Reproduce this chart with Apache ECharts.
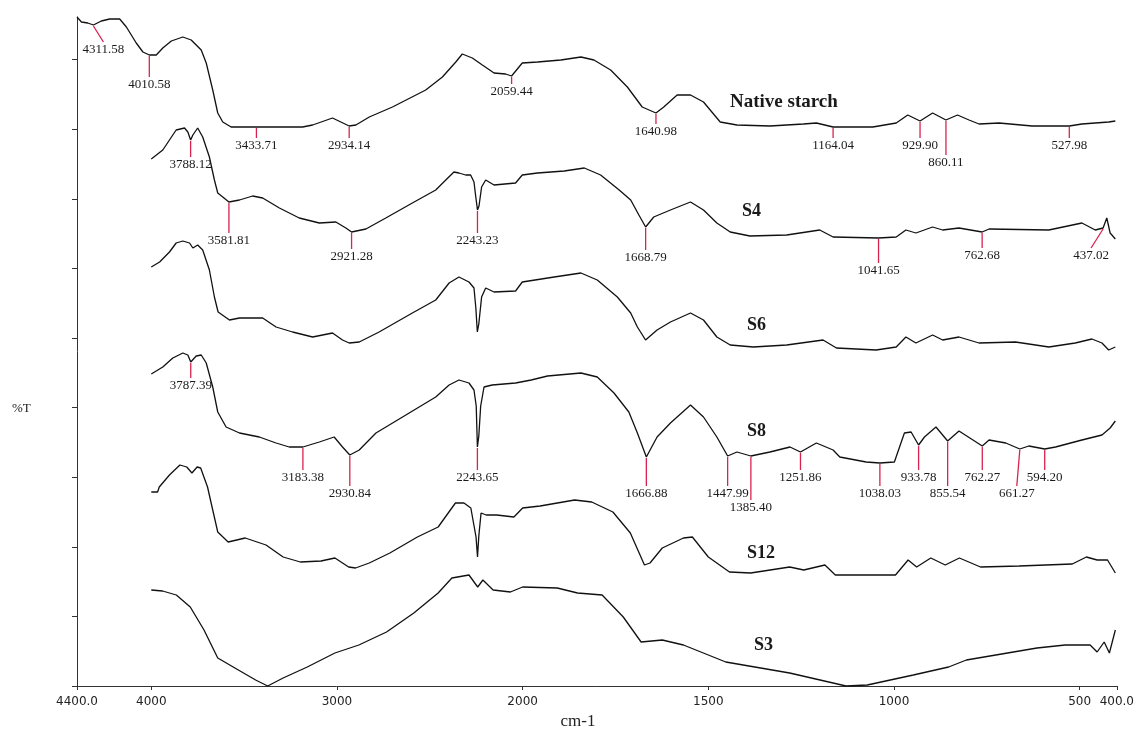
<!DOCTYPE html>
<html>
<head>
<meta charset="utf-8">
<script src="https://cdn.jsdelivr.net/npm/echarts@6/dist/echarts.min.js"></script>
<style>
html,body{margin:0;padding:0;background:#fff;}
#chart{width:1137px;height:743px;}
</style>
</head>
<body>
<div id="chart"></div>
<script>
// ---------------- DATA (wavenumber cm-1, transmittance in arbitrary offset units) ----------------
const xTickWn = [4400, 4000, 3000, 2000, 1500, 1000, 500, 400];
const xTickLabels = ['4400.0', '4000', '3000', '2000', '1500', '1000', '500', '400.0'];
const seriesNames = ['Native starch', 'S4', 'S6', 'S8', 'S12', 'S3'];

const nativeStarch = [
[4400,669],[4376,664],[4342,663],[4311.58,661],[4269,665],[4224,667],[4170,667],[4134,659],[4081,643],[4045,634],
[4010.58,631],[3973,631],[3938,638],[3892,645],[3830,649],[3785,646],[3731,636],[3704,623],[3669,596],[3642,573],
[3615,564],[3570,559],[3433.71,559],[3185,559],[3131,561],[3024,568],[2979,564],[2934.14,560],[2898,561],[2826,569],
[2701,579],[2522,596],[2432,609],[2360,624],[2325,632],[2271,628],[2217,621],[2154,613],[2092,612],[2059.44,610],
[2002,623],[1960,624],[1897,626],[1843,629],[1808,626],[1763,616],[1718,599],[1678,579],[1640.98,573],[1620,579],
[1584,591],[1548,591],[1513,584],[1468,564],[1423,561],[1334,560],[1244,562],[1209,563],[1164.04,559],[1057,559],
[994,563],[963,571],[929.90,565],[896,573],[860.11,566],[829,571],[798,566],[771,562],[717,563],[628,560],
[527.98,560],[494,562],[422,564],[404,565]
];
const s4 = [
[4000,527],[3938,536],[3902,546],[3866,556],[3821,558],[3803,554],[3788.12,546],[3776,551],[3750,558],[3723,549],
[3687,529],[3660,506],[3642,493],[3615,489],[3581.81,484],[3525,486],[3454,490],[3400,488],[3310,478],[3203,468],
[3095,463],[3006,464],[2952,458],[2921.28,454],[2844,457],[2737,468],[2594,483],[2468,496],[2414,506],[2370,514],
[2343,513],[2307,511],[2280,511],[2262,504],[2253,490],[2243.23,476],[2235,480],[2221,499],[2199,506],[2154,501],
[2038,503],[2002,511],[1960,513],[1888,515],[1834,518],[1790,511],[1740,496],[1709,486],[1687,471],[1668.79,459],
[1647,469],[1602,476],[1548,484],[1513,476],[1477,463],[1441,454],[1388,450],[1289,451],[1200,456],[1164,449],
[1041.65,448],[994,449],[968,456],[941,453],[896,459],[869,456],[825,458],[762.68,454],[744,457],[583,456],
[494,463],[458,456],[437.02,458],[427,468],[418,453],[404,447]
];
const s6 = [
[4000,419],[3955,424],[3902,434],[3866,443],[3830,445],[3794,443],[3776,438],[3750,441],[3723,436],[3687,416],
[3660,389],[3640,374],[3579,366],[3525,368],[3400,368],[3328,359],[3239,354],[3131,349],[3024,353],[2970,346],
[2934,343],[2880,344],[2773,354],[2594,373],[2468,386],[2396,403],[2343,409],[2289,404],[2262,398],[2252,378],
[2244,354],[2236,362],[2221,389],[2199,398],[2154,394],[2038,395],[2002,404],[1915,409],[1843,413],[1799,406],
[1745,389],[1709,373],[1691,359],[1669,346],[1638,356],[1602,364],[1548,373],[1513,366],[1477,349],[1441,341],
[1379,339],[1289,341],[1191,346],[1155,338],[1048,336],[994,339],[968,349],[941,343],[896,351],[869,346],
[825,349],[771,343],[673,344],[583,339],[512,343],[467,347],[440,343],[422,336],[404,339]
];
const s8 = [
[4000,312],[3938,319],[3884,328],[3830,333],[3803,331],[3787.39,324],[3758,330],[3731,331],[3704,323],[3669,299],
[3642,274],[3597,259],[3525,253],[3418,249],[3328,243],[3257,239],[3183.38,239],[3095,244],[3015,249],[2970,239],
[2930.84,231],[2880,236],[2790,253],[2611,273],[2468,289],[2396,301],[2343,306],[2289,303],[2262,296],[2250,280],
[2243.65,239],[2236,250],[2226,280],[2208,299],[2164,301],[2038,303],[1977,306],[1933,310],[1843,313],[1799,309],
[1754,293],[1714,274],[1691,253],[1666.88,229],[1638,249],[1602,263],[1548,281],[1513,269],[1477,249],[1447.99,230],
[1423,234],[1385.40,230],[1334,234],[1280,239],[1251.86,234],[1209,243],[1164,236],[1146,229],[1075,224],[1038.03,223],
[999,224],[972,253],[954,254],[933.78,241],[918,249],[887,259],[855.54,245],[825,255],[762.27,240],[744,246],
[699,243],[661.27,237],[637,240],[594.20,237],[565,239],[494,246],[440,251],[418,258],[404,265]
];
const s12 = [
[4000,194],[3966,194],[3957,199],[3902,211],[3846,221],[3809,219],[3781,213],[3753,219],[3734,218],[3697,199],
[3669,176],[3642,154],[3586,144],[3494,148],[3382,141],[3290,129],[3197,124],[3086,125],[3011,128],[2937,119],
[2900,118],[2826,123],[2715,133],[2567,149],[2455,159],[2362,183],[2316,183],[2279,178],[2251,149],[2243,129],
[2236,150],[2224,173],[2196,171],[2140,171],[2047,169],[2000,178],[1953,180],[1860,186],[1814,184],[1757,174],
[1710,153],[1672,121],[1657,123],[1624,138],[1567,148],[1543,149],[1500,129],[1443,114],[1386,113],[1281,119],
[1243,116],[1186,121],[1158,111],[996,111],[962,126],[939,119],[901,128],[862,121],[824,128],[767,119],
[663,120],[520,122],[482,129],[453,126],[425,126],[404,113]
];
const s3 = [
[4000,96],[3939,95],[3865,91],[3790,79],[3716,56],[3642,28],[3531,16],[3438,6],[3373,0],[3290,8],
[3160,19],[3011,33],[2882,41],[2733,54],[2586,73],[2455,93],[2381,108],[2289,111],[2242,99],[2214,106],
[2159,96],[2066,94],[2000,99],[1907,98],[1852,93],[1786,91],[1729,69],[1681,44],[1624,46],[1567,41],
[1453,24],[1281,13],[1129,0],[1072,1],[948,11],[853,19],[805,26],[615,38],[539,41],[472,41],
[453,34],[434,44],[420,33],[404,56]
];

// peak annotations (wavenumbers)
const nativePeaks = [4311.58, 4010.58, 3433.71, 2934.14, 2059.44, 1640.98, 1164.04, 929.90, 860.11, 527.98];
const s4Peaks = [3788.12, 3581.81, 2921.28, 2243.23, 1668.79, 1041.65, 762.68, 437.02];
const s8Peaks = [3787.39, 3183.38, 2930.84, 2243.65, 1666.88, 1447.99, 1385.40, 1251.86, 1038.03, 933.78, 855.54, 762.27, 661.27, 594.20];

// ---------------- LAYOUT (annotation leader lengths in px, slant offsets) ----------------
const markerLayout = {
  '4311.58': {drop: 17, dx: 10}, '4010.58': {drop: 22}, '3433.71': {drop: 11}, '2934.14': {drop: 12},
  '2059.44': {drop: 8}, '1640.98': {drop: 11}, '1164.04': {drop: 11}, '929.90': {drop: 17},
  '860.11': {drop: 35}, '527.98': {drop: 12},
  '3788.12': {drop: 17}, '3581.81': {drop: 31}, '2921.28': {drop: 17}, '2243.23': {drop: 23},
  '1668.79': {drop: 23}, '1041.65': {drop: 25}, '762.68': {drop: 16}, '437.02': {drop: 20, dx: -12},
  '3787.39': {drop: 16}, '3183.38': {drop: 23}, '2930.84': {drop: 31}, '2243.65': {drop: 23},
  '1666.88': {drop: 29}, '1447.99': {drop: 30}, '1385.40': {drop: 44}, '1251.86': {drop: 18},
  '1038.03': {drop: 23}, '933.78': {drop: 25}, '855.54': {drop: 45}, '762.27': {drop: 24},
  '661.27': {drop: 37, dx: -3}, '594.20': {drop: 21}
};
const nameLayout = [
  {x: 730, y: 102, size: 19}, {x: 742, y: 211, size: 18}, {x: 747, y: 325, size: 18},
  {x: 747, y: 431, size: 18}, {x: 747, y: 553, size: 18}, {x: 754, y: 645, size: 18}
];

// ---------------- AXIS TRANSFORM (scale doubles below 2000 cm-1, as in the instrument plot) ----------------
function toAxis(w) { return w >= 2000 ? 4400 - w : 2400 + 2 * (2000 - w); }
function interp(arr, w) {
  for (let i = 0; i < arr.length - 1; i++) {
    const a = arr[i], b = arr[i + 1];
    if ((w <= a[0] && w >= b[0])) {
      if (a[0] === b[0]) return a[1];
      return a[1] + (b[1] - a[1]) * (a[0] - w) / (a[0] - b[0]);
    }
  }
  return arr[arr.length - 1][1];
}

const allSeries = [nativeStarch, s4, s6, s8, s12, s3];
const xTicks = xTickWn.map(toAxis);
const yStep = 69.6;
const yTicks = [];
for (let k = 0; k <= 9; k++) yTicks.push(+(k * yStep).toFixed(1));

const markerItems = [];
[[nativeStarch, nativePeaks], [s4, s4Peaks], [s8, s8Peaks]].forEach(([arr, peaks]) => {
  peaks.forEach(w => {
    const key = w.toFixed(2);
    const lay = markerLayout[key] || {drop: 12};
    markerItems.push({value: [toAxis(w), interp(arr, w), lay.drop, lay.dx || 0], text: key});
  });
});

const serif = '"Liberation Serif", "Times New Roman", serif';

const series = allSeries.map((arr, i) => ({
  name: seriesNames[i],
  type: 'line',
  data: arr.map(p => [toAxis(p[0]), p[1]]),
  showSymbol: false,
  symbol: 'none',
  lineStyle: {color: '#111', width: 1.3},
  z: 3,
  clip: false
}));

series.push({
  type: 'custom',
  coordinateSystem: 'cartesian2d',
  encode: {x: 0, y: 1},
  data: markerItems.map(m => m.value),
  z: 4,
  clip: false,
  renderItem: function (params, api) {
    const p = api.coord([api.value(0), api.value(1)]);
    const drop = api.value(2), dx = api.value(3);
    const x1 = p[0], y1 = p[1] + 1, x2 = p[0] + dx, y2 = p[1] + drop;
    const txt = markerItems[params.dataIndex].text;
    return {
      type: 'group',
      children: [
        {type: 'line', shape: {x1: x1, y1: y1, x2: x2, y2: y2},
         style: {stroke: '#d9234f', lineWidth: 1.3}},
        {type: 'text', x: x2, y: y2 + 1,
         style: {text: txt, align: 'center', verticalAlign: 'top', textAlign: 'center', textVerticalAlign: 'top',
                 font: '13px ' + serif, fill: '#1a1a1a'}}
      ]
    };
  }
});

const graphic = [
  {type: 'text', x: 12, y: 409,
   style: {text: '%T', font: '13px ' + serif, fill: '#222', verticalAlign: 'middle', textVerticalAlign: 'middle'}},
  {type: 'text', x: 578, y: 722,
   style: {text: 'cm-1', font: '17px ' + serif, fill: '#222', align: 'center', textAlign: 'center',
           verticalAlign: 'middle', textVerticalAlign: 'middle'}}
];
seriesNames.forEach((n, i) => {
  const L = nameLayout[i];
  graphic.push({type: 'text', x: L.x, y: L.y,
    style: {text: n, font: 'bold ' + L.size + 'px ' + serif, fill: '#1a1a1a',
            verticalAlign: 'middle', textVerticalAlign: 'middle'}});
});

const chart = echarts.init(document.getElementById('chart'), null, {renderer: 'canvas'});
chart.setOption({
  animation: false,
  backgroundColor: '#fff',
  grid: {left: 77, top: 17, width: 1042, height: 669, containLabel: false},
  xAxis: {
    type: 'value', min: 0, max: 5600,
    axisLine: {show: true, onZero: false, lineStyle: {color: '#333', width: 1}},
    axisTick: {show: true, customValues: xTicks, length: 4, lineStyle: {color: '#333'}},
    axisLabel: {show: true, customValues: xTicks, margin: 10, color: '#222', fontSize: 12,
      fontFamily: '"DejaVu Sans", sans-serif',
      formatter: function (v) { const i = xTicks.indexOf(v); return i >= 0 ? xTickLabels[i] : ''; }},
    splitLine: {show: false}
  },
  yAxis: {
    type: 'value', min: 0, max: 669,
    axisLine: {show: true, lineStyle: {color: '#333', width: 1}},
    axisTick: {show: true, customValues: yTicks, length: 5, lineStyle: {color: '#333'}},
    axisLabel: {show: false},
    splitLine: {show: false}
  },
  series: series,
  graphic: graphic
});
</script>
</body>
</html>
